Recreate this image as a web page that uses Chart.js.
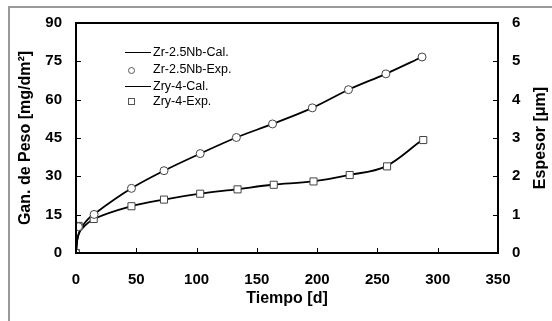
<!DOCTYPE html>
<html>
<head>
<meta charset="utf-8">
<script src="https://cdn.jsdelivr.net/npm/chart.js@4.4.1/dist/chart.umd.min.js"></script>
<style>
  html, body { margin:0; padding:0; background:#fff; }
  #wrap { position:relative; width:552px; height:321px; overflow:hidden; font-family:"Liberation Sans", Arial, sans-serif; }
  canvas { position:absolute; left:0; top:0; }
  .lg { position:absolute; font-size:12.5px; color:#000; white-space:nowrap; line-height:15px; }
  .lgline { position:absolute; height:0; border-top:1.5px solid #000; width:26px; }
  .lgc { position:absolute; width:5px; height:5px; border:1px solid #555; border-radius:50%; background:#fff; }
  .lgs { position:absolute; width:5px; height:5px; border:1px solid #555; background:#fff; }
</style>
</head>
<body>
<div id="wrap">
  <canvas id="c" width="552" height="321"></canvas>
  <div class="lgline" style="left:125px; top:52px;"></div>
  <div class="lg" style="left:153px; top:45px;">Zr-2.5Nb-Cal.</div>
  <div class="lgc" style="left:128px; top:67px;"></div>
  <div class="lg" style="left:153px; top:62px;">Zr-2.5Nb-Exp.</div>
  <div class="lgline" style="left:125px; top:86px;"></div>
  <div class="lg" style="left:153px; top:79px;">Zry-4-Cal.</div>
  <div class="lgs" style="left:128px; top:98px;"></div>
  <div class="lg" style="left:153px; top:94px;">Zry-4-Exp.</div>
</div>
<script>
// ---- data ----
const expTime      = [0, 2, 15, 46, 73, 103, 133, 163, 196, 226, 257, 287];
const zrNbExp      = [0, 10.3, 15.1, 25.3, 32.2, 38.9, 45.2, 50.5, 56.8, 63.9, 70.1, 76.7];
const zryExpTime   = [0, 2.2, 14.7, 46, 73, 103, 134, 164, 197, 227, 258, 288];
const zry4Exp      = [0, 10.6, 13.3, 18.3, 20.9, 23.2, 24.9, 26.7, 28.0, 30.5, 33.9, 44.2];
const calTime      = [0, 1, 3, 6, 10, 15, 46, 73, 103, 133, 163, 196, 226, 257, 287];
const zrNbCal      = [0, 5, 8.5, 11, 13.3, 15.2, 25.3, 32.2, 38.9, 45.2, 50.5, 56.8, 63.9, 70.1, 76.7];
const zry4Cal      = [0, 5, 8.2, 10, 11.8, 13.3, 18.3, 20.9, 23.2, 24.9, 26.7, 28.0, 30.5, 33.9, 44.2];
const xTicks       = [0, 50, 100, 150, 200, 250, 300, 350];
const yTicks       = [0, 15, 30, 45, 60, 75, 90];
const y2Ticks      = [0, 1, 2, 3, 4, 5, 6];

const pts = (xs, ys) => xs.map((x, i) => ({x, y: ys[i]}));

const tickFont = {family:'"Liberation Sans", Arial, sans-serif', size:15, weight:'bold'};
const titleFont = {family:'"Liberation Sans", Arial, sans-serif', size:16, weight:'bold'};

const boxPlugin = {
  id:'box',
  beforeDraw(chart) {
    const {ctx} = chart;
    ctx.save();
    ctx.fillStyle = '#999999';
    ctx.fillRect(8, 6, 560, 2);
    ctx.fillRect(8, 6, 2, 330);
    ctx.restore();
  },
  afterDraw(chart) {
    const {ctx, chartArea:a, scales} = chart;
    ctx.save();
    ctx.strokeStyle = '#000';
    ctx.lineWidth = 1;
    ctx.beginPath();
    xTicks.forEach(v => { const px = Math.round(scales.x.getPixelForValue(v)) + 0.5; ctx.moveTo(px, a.bottom); ctx.lineTo(px, a.bottom - 5); });
    yTicks.forEach(v => { const py = Math.round(scales.y.getPixelForValue(v)) + 0.5; ctx.moveTo(a.left, py); ctx.lineTo(a.left + 5, py); });
    y2Ticks.forEach(v => { const py = Math.round(scales.y2.getPixelForValue(v)) + 0.5; ctx.moveTo(a.right, py); ctx.lineTo(a.right - 5, py); });
    ctx.stroke();
    ctx.lineWidth = 2;
    ctx.strokeRect(a.left, a.top, a.right - a.left, a.bottom - a.top);
    ctx.fillStyle = '#000';
    ctx.font = 'bold 16px "Liberation Sans", Arial, sans-serif';
    ctx.textAlign = 'center';
    ctx.textBaseline = 'middle';
    ctx.translate(541, (a.top + a.bottom) / 2);
    ctx.rotate(-Math.PI / 2);
    ctx.fillText('Espesor [μm]', 0, 0);
    ctx.restore();
  }
};

new Chart(document.getElementById('c'), {
  type:'scatter',
  data:{
    datasets:[
      {label:'Zr-2.5Nb-Exp.', data:pts(expTime, zrNbExp), showLine:false, pointStyle:'circle', pointRadius:4,
       pointBackgroundColor:'#fff', pointBorderColor:'#444', pointBorderWidth:1, order:1},
      {label:'Zry-4-Exp.', data:pts(zryExpTime, zry4Exp), showLine:false, pointStyle:'rect', pointRadius:5,
       pointBackgroundColor:'#fff', pointBorderColor:'#444', pointBorderWidth:1, order:1},
      {label:'Zr-2.5Nb-Cal.', data:pts(calTime, zrNbCal), showLine:true, pointRadius:0, borderColor:'#000', borderWidth:1.8,
       cubicInterpolationMode:'monotone', order:2},
      {label:'Zry-4-Cal.', data:pts(calTime, zry4Cal), showLine:true, pointRadius:0, borderColor:'#000', borderWidth:1.8,
       cubicInterpolationMode:'monotone', order:2}
    ]
  },
  options:{
    responsive:false, animation:false, events:[],
    layout:{padding:{top:21, left:0, right:0, bottom:0}},
    plugins:{legend:{display:false}, tooltip:{enabled:false}},
    scales:{
      x:{type:'linear', min:0, max:350,
         afterBuildTicks:s => { s.ticks = xTicks.map(v => ({value:v})); },
         afterFit:s => { s.height = 68; },
         grid:{display:false, drawTicks:false}, border:{display:false},
         ticks:{padding:18, color:'#000', font:tickFont, maxRotation:0},
         title:{display:true, text:'Tiempo [d]', color:'#000', font:titleFont, padding:{top:0, bottom:13}}},
      y:{type:'linear', position:'left', min:0, max:90,
         afterBuildTicks:s => { s.ticks = yTicks.map(v => ({value:v})); },
         afterFit:s => { s.width = 76; },
         grid:{display:false, drawTicks:false}, border:{display:false},
         ticks:{padding:14, color:'#000', font:tickFont},
         title:{display:true, text:'Gan. de Peso [mg/dm²]', color:'#000', font:titleFont, padding:{top:16, bottom:0}}},
      y2:{type:'linear', position:'right', min:0, max:6,
         afterBuildTicks:s => { s.ticks = y2Ticks.map(v => ({value:v})); },
         afterFit:s => { s.width = 54; },
         grid:{display:false, drawTicks:false}, border:{display:false},
         ticks:{padding:14, color:'#000', font:tickFont}}
    }
  },
  plugins:[boxPlugin]
});
</script>
</body>
</html>
